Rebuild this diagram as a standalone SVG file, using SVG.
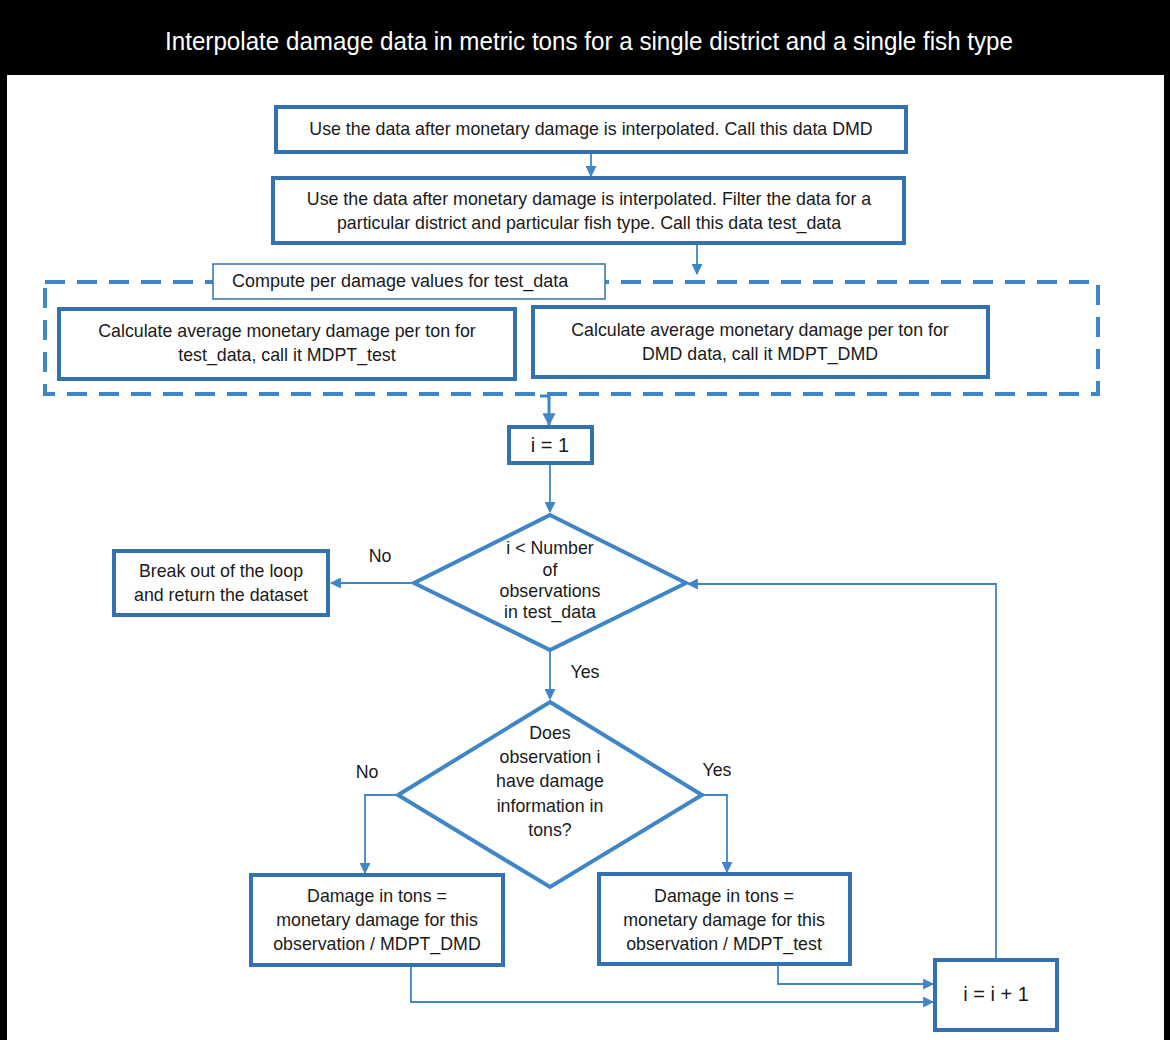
<svg xmlns="http://www.w3.org/2000/svg" width="1170" height="1040" viewBox="0 0 1170 1040">
  <defs>
    <marker id="arr" viewBox="0 0 10 10" refX="9" refY="5" markerWidth="11" markerHeight="11" markerUnits="userSpaceOnUse" orient="auto">
      <path d="M0,0 L10,5 L0,10 z" fill="#3f86c8"/>
    </marker>
    <marker id="arrL" viewBox="0 0 10 10" refX="9" refY="5" markerWidth="13" markerHeight="13" markerUnits="userSpaceOnUse" orient="auto">
      <path d="M0,0 L10,5 L0,10 z" fill="#3f86c8"/>
    </marker>
  </defs>
  <style>
    text { font-family: "Liberation Sans", Arial, sans-serif; fill: #1a1a1a; font-size: 17.8px; }
    .title { fill: #ffffff; font-size: 26px; }
    .box { fill: #ffffff; stroke: #3471b0; stroke-width: 4; }
    .thin { fill: #ffffff; stroke: #3471b0; stroke-width: 1.5; }
    .dia { fill: #ffffff; stroke: #3f86c8; stroke-width: 4; }
    .dash { fill: none; stroke: #3f86c8; stroke-width: 4; stroke-dasharray: 20 12; }
    .con { fill: none; stroke: #3f86c8; stroke-width: 1.8; }
    .conB { fill: none; stroke: #3f86c8; stroke-width: 3; }
    .c { text-anchor: middle; }
  </style>

  <!-- frame and header -->
  <rect x="0" y="0" width="1170" height="1040" fill="#000000"/>
  <rect x="7" y="75" width="1157" height="965" fill="#ffffff"/>
  <text class="title c" x="589" y="50" textLength="848" lengthAdjust="spacingAndGlyphs">Interpolate damage data in metric tons for a single district and a single fish type</text>

  <!-- connectors -->
  <g id="connectors">
    <path class="con" d="M591,152 V176" marker-end="url(#arr)"/>
    <path class="con" d="M697,243 V274" marker-end="url(#arr)"/>
    <path class="conB" d="M540,396 H549 V425" marker-end="url(#arrL)"/>
    <path class="con" d="M550,463 V512" marker-end="url(#arr)"/>
    <path class="con" d="M414,583 H331" marker-end="url(#arr)"/>
    <path class="con" d="M550,650 V699" marker-end="url(#arr)"/>
    <path class="con" d="M398,795 H365 V873" marker-end="url(#arr)"/>
    <path class="con" d="M702,795 H727 V872" marker-end="url(#arr)"/>
    <path class="con" d="M778,964 V984 H933" marker-end="url(#arr)"/>
    <path class="con" d="M411,965 V1002 H933" marker-end="url(#arr)"/>
    <path class="con" d="M996,960 V584 H688" marker-end="url(#arr)"/>
  </g>

  <g id="node-dmd">
    <rect class="box" x="276" y="107" width="630" height="45"/>
    <text class="c" x="591" y="135">Use the data after monetary damage is interpolated. Call this data DMD</text>
  </g>

  <g id="node-test-data">
    <rect class="box" x="273" y="178" width="631" height="65"/>
    <text class="c" x="589" y="205">Use the data after monetary damage is interpolated. Filter the data for a</text>
    <text class="c" x="589" y="229">particular district and particular fish type. Call this data test_data</text>
  </g>

  <g id="group-compute">
    <rect class="dash" x="45" y="282" width="1053" height="112"/>
    <rect class="thin" x="213" y="264" width="392" height="35"/>
    <text x="232" y="287" style="font-size:18px">Compute per damage values for test_data</text>
  </g>

  <g id="node-mdpt-test">
    <rect class="box" x="59" y="309" width="456" height="70"/>
    <text class="c" x="287" y="337">Calculate average monetary damage per ton for</text>
    <text class="c" x="287" y="361">test_data, call it MDPT_test</text>
  </g>

  <g id="node-mdpt-dmd">
    <rect class="box" x="533" y="307" width="455" height="70"/>
    <text class="c" x="760" y="336">Calculate average monetary damage per ton for</text>
    <text class="c" x="760" y="360">DMD data, call it MDPT_DMD</text>
  </g>

  <g id="node-init">
    <rect class="box" x="509" y="427" width="83" height="36"/>
    <text class="c" x="550" y="452" style="font-size:20px">i = 1</text>
  </g>

  <g id="node-loop-check">
    <polygon class="dia" points="550,515 686,583 550,650 414,583"/>
    <text class="c" x="550" y="554">i &lt; Number</text>
    <text class="c" x="550" y="576">of</text>
    <text class="c" x="550" y="597">observations</text>
    <text class="c" x="550" y="618">in test_data</text>
  </g>

  <g id="node-break">
    <rect class="box" x="114" y="551" width="214" height="64"/>
    <text class="c" x="221" y="577">Break out of the loop</text>
    <text class="c" x="221" y="601">and return the dataset</text>
  </g>

  <g id="node-has-tons">
    <polygon class="dia" points="550,702 702,795 550,887 398,795"/>
    <text class="c" x="550" y="739">Does</text>
    <text class="c" x="550" y="763">observation i</text>
    <text class="c" x="550" y="787">have damage</text>
    <text class="c" x="550" y="812">information in</text>
    <text class="c" x="550" y="836">tons?</text>
  </g>

  <g id="node-tons-dmd">
    <rect class="box" x="251" y="875" width="252" height="90"/>
    <text class="c" x="377" y="902">Damage in tons =</text>
    <text class="c" x="377" y="926">monetary damage for this</text>
    <text class="c" x="377" y="950">observation / MDPT_DMD</text>
  </g>

  <g id="node-tons-test">
    <rect class="box" x="599" y="874" width="251" height="90"/>
    <text class="c" x="724" y="902">Damage in tons =</text>
    <text class="c" x="724" y="926">monetary damage for this</text>
    <text class="c" x="724" y="950">observation / MDPT_test</text>
  </g>

  <g id="node-increment">
    <rect class="box" x="935" y="960" width="122" height="70"/>
    <text class="c" x="996" y="1001" style="font-size:20px">i = i + 1</text>
  </g>

  <!-- branch labels -->
  <g id="labels">
    <text class="c" x="380" y="562">No</text>
    <text class="c" x="585" y="678">Yes</text>
    <text class="c" x="367" y="778">No</text>
    <text class="c" x="717" y="776">Yes</text>
  </g>
</svg>
